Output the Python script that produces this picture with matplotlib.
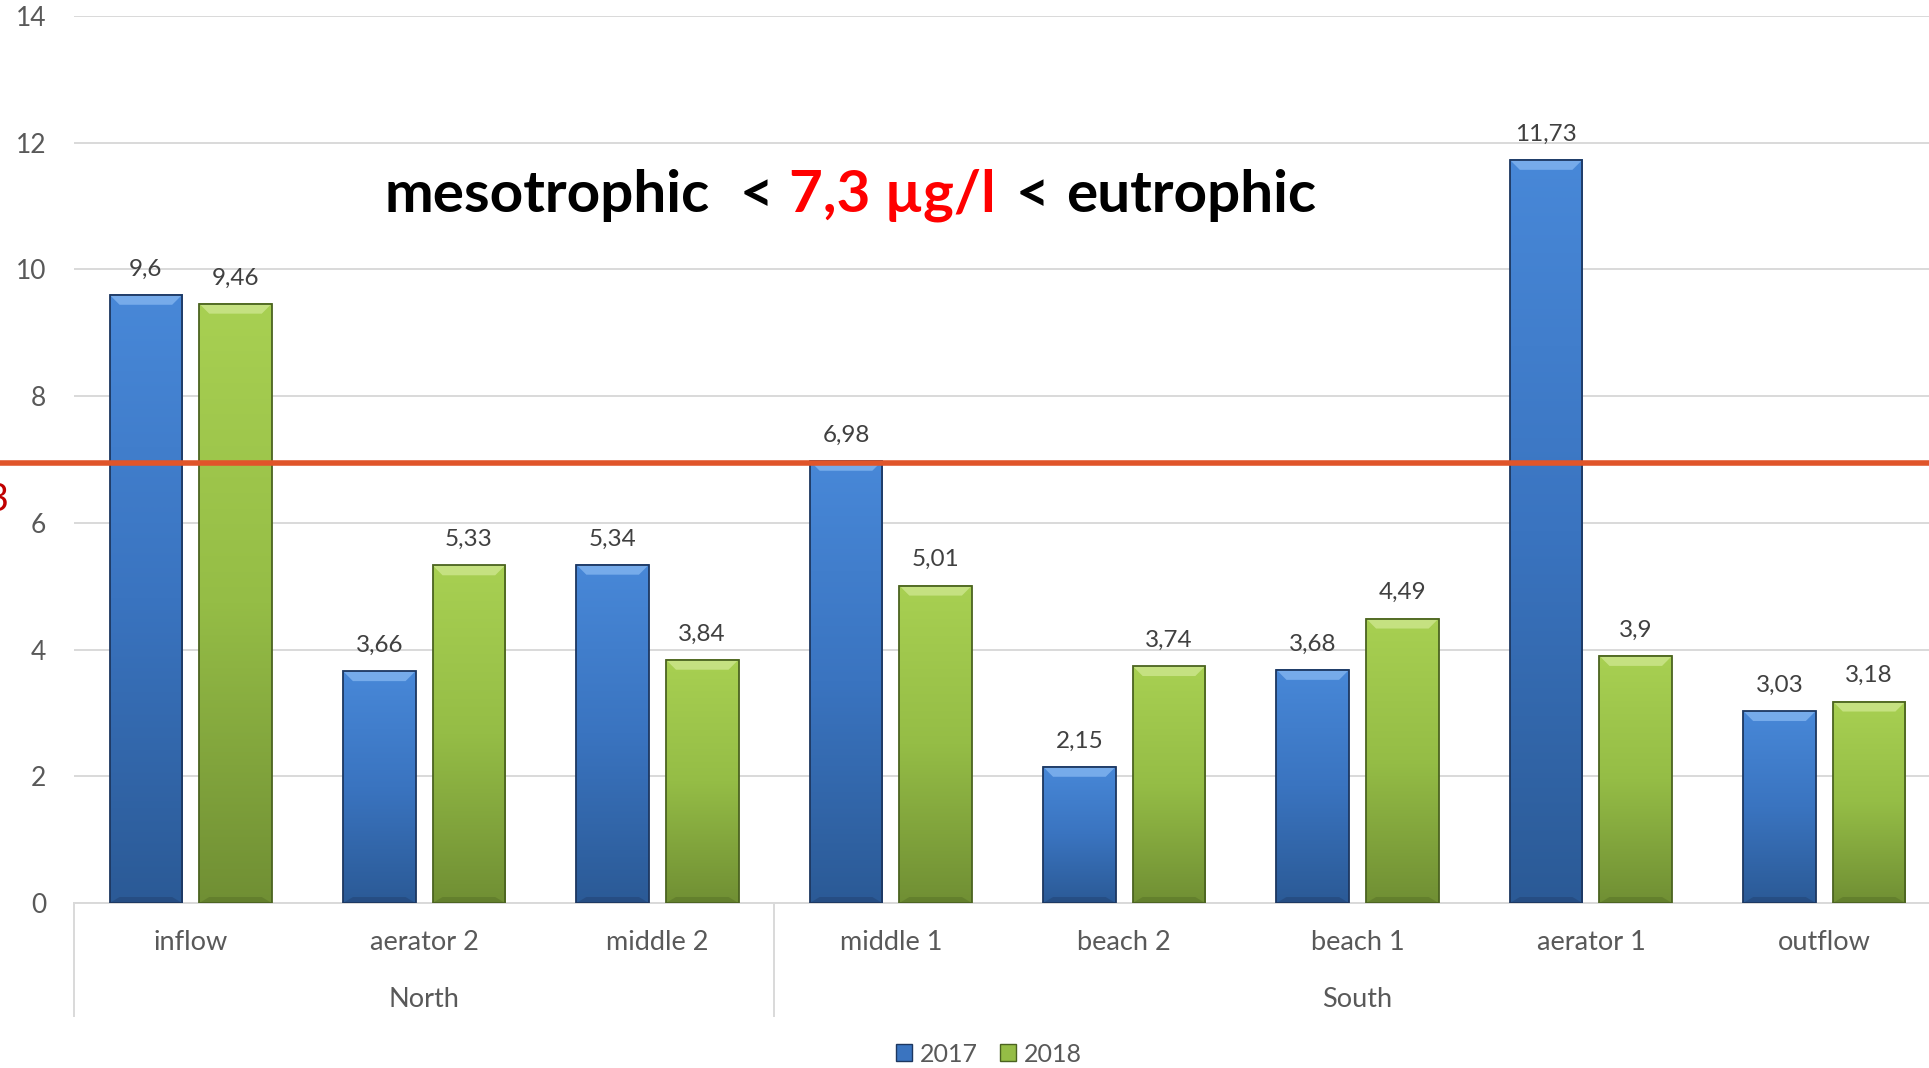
import numpy as np
import matplotlib
matplotlib.use('Agg')
import matplotlib.pyplot as plt
import matplotlib.transforms as mtransforms
from matplotlib.colors import LinearSegmentedColormap
from matplotlib.patches import Polygon, Rectangle, Patch

# chlorophyll-a per sampling site, two seasons
sites = ['inflow', 'aerator 2', 'middle 2', 'middle 1', 'beach 2', 'beach 1', 'aerator 1', 'outflow']
regions = ['North', 'South']
region_first = [0, 3]
region_last = [2, 7]
years = ['2017', '2018']
vals_2017 = [9.6, 3.66, 5.34, 6.98, 2.15, 3.68, 11.73, 3.03]
vals_2018 = [9.46, 5.33, 3.84, 5.01, 3.74, 4.49, 3.9, 3.18]
limit_level = 6.95
limit_text = '7,3'
yticks = [0, 2, 4, 6, 8, 10, 12, 14]

plt.rcParams['font.family'] = ['Lato', 'DejaVu Sans']
grey_txt = '#595959'
grid_col = '#d9d9d9'

blue_map = LinearSegmentedColormap.from_list('b', ['#2b5a96', '#3a74c0', '#4888d8'])
green_map = LinearSegmentedColormap.from_list('g', ['#708f34', '#95bd46', '#a8d052'])
blue_top, blue_edge = '#7fb2ee', '#1d3760'
green_top, green_edge = '#cbe58a', '#4b6320'

fig = plt.figure(figsize=(19.29, 10.68), dpi=100)
ax = fig.add_axes([74/1929, 165/1068, 1867/1929, 887/1068])
ax.set_xlim(-0.5, 7.5)
ax.set_ylim(0, 14)

# px -> data sizes for the bevel
px_x = 1.0 / (1867/8)
px_y = 14.0 / 887


def draw_bar(xc, w, h, cmap, top_col, edge_col):
    l, r = xc - w/2, xc + w/2
    grad = np.linspace(1, 0, 256).reshape(-1, 1)
    ax.imshow(grad, extent=[l, r, 0, h], cmap=cmap, aspect='auto', zorder=3,
              interpolation='bilinear')
    dx, dy = 10*px_x, 10*px_y
    ax.add_patch(Polygon([(l, h), (r, h), (r-dx, h-dy), (l+dx, h-dy)],
                         closed=True, fc=top_col, ec='none', alpha=0.85, zorder=4))
    ax.add_patch(Polygon([(l, 0), (r, 0), (r-dx, dy*0.6), (l+dx, dy*0.6)],
                         closed=True, fc=edge_col, ec='none', alpha=0.35, zorder=4))
    ax.add_patch(Rectangle((l, 0), w, h, fill=False, ec=edge_col, lw=1.3, zorder=5))


def fmt(v):
    return ('%g' % v).replace('.', ',')


bw = 0.311
off = 0.192
x = np.arange(len(sites))
for i in range(len(sites)):
    for xc, v, cm, tc, ec in [(x[i]-off, vals_2017[i], blue_map, blue_top, blue_edge),
                              (x[i]+off, vals_2018[i], green_map, green_top, green_edge)]:
        draw_bar(xc, bw, v, cm, tc, ec)
        ax.annotate(fmt(v), (xc, v), xytext=(0, 11), textcoords='offset points',
                    ha='center', va='bottom', fontsize=17.5, color='#404040', zorder=6)

ax.set_xlim(-0.5, 7.5)
ax.set_ylim(0, 14)

# grid and axes styling
ax.set_yticks(yticks)
ax.set_yticklabels([str(t) for t in yticks], fontsize=19, color=grey_txt)
ax.tick_params(axis='y', length=0, pad=20)
ax.set_xticks([])
ax.yaxis.grid(True, color=grid_col, lw=1.4, zorder=0)
ax.set_axisbelow(True)
for s in ['top', 'right', 'left']:
    ax.spines[s].set_visible(False)
ax.spines['bottom'].set_color(grid_col)
ax.spines['bottom'].set_linewidth(1.4)

# category + region labels under the axis
tr = mtransforms.blended_transform_factory(ax.transData, ax.transAxes)
for i, s in enumerate(sites):
    ax.text(x[i], -0.045, s, transform=tr, ha='center', va='center',
            fontsize=19.5, color=grey_txt)
for name, a, b in zip(regions, region_first, region_last):
    ax.text((a + b)/2, -0.109, name, transform=tr, ha='center', va='center',
            fontsize=19.5, color=grey_txt)
for sx in [-0.5, 2.5, 7.5]:
    ax.plot([sx, sx], [0, -0.127], transform=tr, color=grid_col, lw=1.4, clip_on=False)

# trophic limit line, runs across the whole figure
trl = mtransforms.blended_transform_factory(fig.transFigure, ax.transData)
ax.plot([0, 1], [limit_level, limit_level], transform=trl, color='#e0552a',
        lw=4, clip_on=False, zorder=7)
fig.text(10/1929, (1068-500)/1068, limit_text, ha='right', va='center',
         fontsize=28, color='#c00000')

# legend
handles = [Patch(fc='#3a74c0', ec=blue_edge), Patch(fc='#95bd46', ec=green_edge)]
fig.legend(handles, years, loc='center', bbox_to_anchor=(989/1929, 14/1068),
           ncol=2, frameon=False, fontsize=18, handlelength=0.65, handleheight=0.65,
           handletextpad=0.3, columnspacing=0.9, labelcolor=grey_txt)

# title built from coloured pieces
fig.canvas.draw()
renderer = fig.canvas.get_renderer()
pieces = [('mesotrophic', 'black', 30), ('<', 'black', 16), ('7,3 µg/l', '#ff0000', 20),
          ('<', 'black', 16), ('eutrophic', 'black', 0)]
ident = mtransforms.IdentityTransform()
base_y = 1068 - 212
cur = 0.0
objs = []
for txt, col, gap in pieces:
    t = fig.text(cur, base_y, txt, transform=ident, fontsize=42, fontweight='bold',
                 color=col, va='baseline', ha='left')
    w = t.get_window_extent(renderer).width
    objs.append(t)
    cur += w + gap
shift = 850 - cur/2
for t in objs:
    t.set_x(t.get_position()[0] + shift)

fig.savefig('out.png', dpi=100)
